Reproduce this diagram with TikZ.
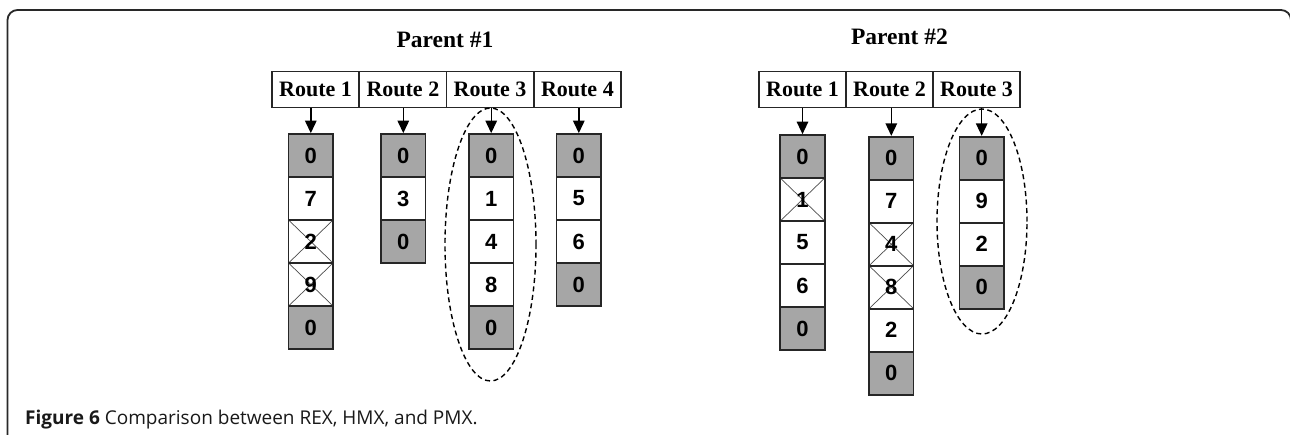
\documentclass[tikz,border=0pt]{standalone}
\usepackage{fontspec}
\setmainfont{Liberation Serif}
\newfontfamily\numfont{Liberation Sans}
\newfontfamily\capfont{Open Sans}
\usetikzlibrary{arrows.meta,shapes.geometric}
\definecolor{cellgray}{RGB}{166,166,166}
\definecolor{framecol}{RGB}{40,40,40}
\begin{document}
\begin{tikzpicture}[x=1pt,y=-1pt,
  hdr/.style={draw=black!85, line width=1.5pt, minimum width=87.25pt, minimum height=36pt, inner sep=0pt, font=\fontsize{22}{24}\selectfont\bfseries},
  cellw/.style={draw=black!85, line width=1.7pt, minimum width=44.5pt, minimum height=43pt, inner sep=0pt, font=\numfont\fontsize{22}{24}\selectfont\bfseries},
  cellg/.style={cellw, fill=cellgray},
  cellx/.style={cellw, path picture={\draw[line width=0.7pt, black!70] (path picture bounding box.north west) -- (path picture bounding box.south east) (path picture bounding box.south west) -- (path picture bounding box.north east);}},
  arr/.style={line width=1.4pt, -{Triangle[length=12.5pt,width=11.5pt]}},
  oval/.style={draw, ellipse, dash pattern=on 5pt off 3.5pt, line width=1.4pt, inner sep=0pt},
  ptitle/.style={anchor=base, font=\fontsize{23.5}{26}\selectfont\bfseries}
]
\useasboundingbox (0,0) rectangle (1290,434);
\clip (0,0) rectangle (1290,434);
\fill[white] (0,0) rectangle (1290,434);
\draw[framecol, line width=1.8pt, rounded corners=10pt] (7.5,460) -- (7.5,10) -- (1291,10) -- (1291,460);

% titles
\node[ptitle] (t1) at (445,47.3) {Parent \#1};
\node[ptitle] (t2) at (899.5,44) {Parent \#2};

% headers parent 1
\node[hdr] (a1) at (315.6,89.7) {Route 1};
\node[hdr] (a2) at (402.9,89.7) {Route 2};
\node[hdr] (a3) at (490.1,89.7) {Route 3};
\node[hdr] (a4) at (577.4,89.7) {Route 4};
% headers parent 2
\node[hdr] (b1) at (802.5,89.7) {Route 1};
\node[hdr] (b2) at (889.5,89.7) {Route 2};
\node[hdr] (b3) at (976.5,89.7) {Route 3};

% parent 1 columns
\node[cellg] (p1a1) at (310.8,155.5) {0};
\node[cellw] (p1a2) at (310.8,198.5) {7};
\node[cellx] (p1a3) at (310.8,241.5) {2};
\node[cellx] (p1a4) at (310.8,284.5) {9};
\node[cellg] (p1a5) at (310.8,327.5) {0};

\node[cellg] (p1b1) at (403.3,155.5) {0};
\node[cellw] (p1b2) at (403.3,198.5) {3};
\node[cellg] (p1b3) at (403.3,241.5) {0};

\node[cellg] (p1c1) at (491.2,155.5) {0};
\node[cellw] (p1c2) at (491.2,198.5) {1};
\node[cellw] (p1c3) at (491.2,241.5) {4};
\node[cellw] (p1c4) at (491.2,284.5) {8};
\node[cellg] (p1c5) at (491.2,327.5) {0};

\node[cellg] (p1d1) at (578.8,155.5) {0};
\node[cellw] (p1d2) at (578.8,198.5) {5};
\node[cellw] (p1d3) at (578.8,241.5) {6};
\node[cellg] (p1d4) at (578.8,284.5) {0};

% parent 2 columns
\node[cellg] (p2a1) at (802.5,156.5) {0};
\node[cellx] (p2a2) at (802.5,199.5) {1};
\node[cellw] (p2a3) at (802.5,242.5) {5};
\node[cellw] (p2a4) at (802.5,285.5) {6};
\node[cellg] (p2a5) at (802.5,328.5) {0};

\node[cellg] (p2b1) at (891.3,158.2) {0};
\node[cellw] (p2b2) at (891.3,201.2) {7};
\node[cellx] (p2b3) at (891.3,244.2) {4};
\node[cellx] (p2b4) at (891.3,287.2) {8};
\node[cellw] (p2b5) at (891.3,330.2) {2};
\node[cellg] (p2b6) at (891.3,373.2) {0};

\node[cellg] (p2c1) at (981.7,158.2) {0};
\node[cellw] (p2c2) at (981.7,201.2) {9};
\node[cellw] (p2c3) at (981.7,244.2) {2};
\node[cellg] (p2c4) at (981.7,287.2) {0};

% arrows
\draw[arr] (a1.south -| p1a1.north) -- (p1a1.north);
\draw[arr] (a2.south -| p1b1.north) -- (p1b1.north);
\draw[arr] (a3.south -| p1c1.north) -- (p1c1.north);
\draw[arr] (a4.south -| p1d1.north) -- (p1d1.north);
\draw[arr] (b1.south -| p2a1.north) -- (p2a1.north);
\draw[arr] (b2.south -| p2b1.north) -- (p2b1.north);
\draw[arr] (b3.south -| p2c1.north) -- (p2c1.north);

% dashed ellipses
\node[oval, minimum width=91pt, minimum height=273pt] (e1) at (490.5,244.5) {};
\node[oval, minimum width=90pt, minimum height=225pt] (e2) at (982,221.5) {};

% caption
\node[anchor=base west, inner sep=0pt, text=black!90, font=\capfont\fontsize{19}{21}\selectfont] (cap) at (25,424) {\textbf{Figure 6} Comparison between REX, HMX, and PMX.};
\end{tikzpicture}
\end{document}
